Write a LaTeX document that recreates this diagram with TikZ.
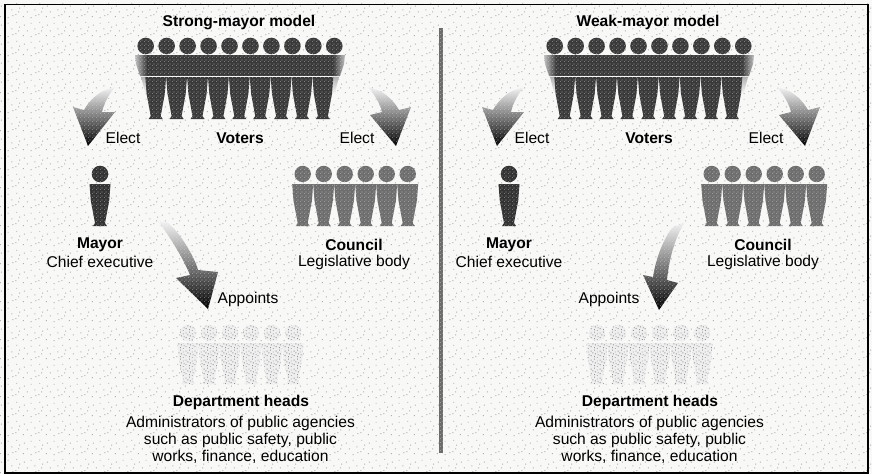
\documentclass[tikz,border=0pt]{standalone}
\usepackage{fontspec}
\setmainfont{Liberation Sans}
\usetikzlibrary{patterns}
\definecolor{paper}{HTML}{F8F8F7}
\definecolor{voter}{HTML}{3A3A3A}
\definecolor{council}{HTML}{6E6E6E}
\definecolor{mayorc}{HTML}{333333}
\definecolor{dept}{HTML}{EFEFEF}
\newcommand{\ptdot}[2]{\pgfpathrectangle{\pgfqpoint{#1pt}{#2pt}}{\pgfqpoint{1pt}{1pt}}}
\pgfdeclarepatternformonly{paperdots}{\pgfqpoint{0pt}{0pt}}{\pgfqpoint{23pt}{19pt}}{\pgfqpoint{23pt}{19pt}}{%
  \ptdot{1}{2}\ptdot{9}{1}\ptdot{17}{4}\ptdot{5}{7}\ptdot{13}{9}\ptdot{21}{11}\ptdot{2}{13}\ptdot{9}{15}\ptdot{18}{16}\ptdot{14}{3}\ptdot{20}{7}
  \pgfusepath{fill}}
\pgfdeclarepatternformonly{stipple}{\pgfqpoint{0pt}{0pt}}{\pgfqpoint{9pt}{9pt}}{\pgfqpoint{9pt}{9pt}}{%
  \ptdot{0}{1}\ptdot{3}{0}\ptdot{6}{2}\ptdot{1}{4}\ptdot{4}{3}\ptdot{8}{5}\ptdot{3}{6}\ptdot{6}{7}\ptdot{0}{8}
  \pgfusepath{fill}}
\pgfdeclarepatternformonly{grain}{\pgfqpoint{0pt}{0pt}}{\pgfqpoint{4pt}{4pt}}{\pgfqpoint{4pt}{4pt}}{%
  \pgfpathrectangle{\pgfqpoint{0pt}{0pt}}{\pgfqpoint{.8pt}{.8pt}}
  \pgfpathrectangle{\pgfqpoint{2pt}{2pt}}{\pgfqpoint{.8pt}{.8pt}}
  \pgfusepath{fill}}
\tikzset{
  lab/.style={inner sep=0pt,font=\fontsize{15.6}{17}\selectfont,align=center,text=black},
  blab/.style={lab,font=\fontsize{15.6}{17}\selectfont\bfseries,text=black},
  frameline/.style={line width=1.8pt,black},
  grainy/.style={postaction={pattern=grain,pattern color=white!70!gray}},
  deptfig/.style={fill=dept,postaction={pattern=stipple,pattern color=gray!85}},
  voterfig/.style={fill=voter,grainy},
  councilfig/.style={fill=council,grainy},
  mayorfig/.style={fill=mayorc,grainy},
  flow/.style={top color=gray!8,middle color=gray!130!black,bottom color=black,grainy},
}
\colorlet{midflow}{black!62}
\tikzset{flow/.style={top color=gray!8,middle color=midflow,bottom color=black,grainy}}
% one column of a figure: centre x, top, bottom, half width, style
\newcommand{\bodycol}[5]{%
  \path[#5] ({#1-#4},#2) -- ({#1+#4},#2) -- ({#1+#4-1.3},{#2+(#3-#2)*.4}) -- ({#1+5},{#3-3}) -- ({#1+7},#3) -- ({#1-7},#3) -- ({#1-5},{#3-3}) -- ({#1-#4+1.3},{#2+(#3-#2)*.4}) -- cycle;}
% row of people: first x, last index, head y, top, bottom, style
\newcommand{\peoplerow}[6]{%
  \foreach \i in {0,...,#2}{
    \path[#6] ({#1+21*\i},#3) circle (8.2);
    \bodycol{#1+21*\i}{#4}{#5}{10.5}{#6}
  }}
\newcommand{\panel}[2]{%
  \node[blab] (#1title) at (239,22) {#2};
  % voters
  \foreach \i in {0,...,9}{\path[voterfig] ({145.7+20.95*\i},46) circle (8.3);}
  \path[voterfig] (147,55) rectangle (333,76);
  \shade[left color=gray!50,right color=voter,grainy] (135,55) -- (147,55) -- (147,76) -- (140,76) -- (136,64) -- cycle;
  \shade[left color=voter,right color=gray!50,grainy] (345,55) -- (333,55) -- (333,76) -- (340,76) -- (344,64) -- cycle;
  \shade[top color=gray!60,bottom color=paper] (141,77) -- (147,77) -- (149,94) -- (145,92) -- cycle;
  \shade[top color=gray!60,bottom color=paper] (339,77) -- (333,77) -- (331,94) -- (335,92) -- cycle;
  \foreach \i in {0,...,8}{\bodycol{155.7+20.9*\i}{77}{119}{10.4}{voterfig}}
  \node[lab] (#1elL) at (123,138) {Elect};
  \node[blab] (#1vot) at (240,138) {Voters};
  \node[lab] (#1elR) at (357,138) {Elect};
  % mayor
  \path[mayorfig] (100,174) circle (8.3);
  \bodycol{100}{184}{226}{10.5}{mayorfig}
  \node[blab] (#1may) at (100,245) {Mayor};
  \node[lab] (#1che) at (100,262) {Chief executive};
  % council
  \peoplerow{302.7}{5}{174}{184}{226}{councilfig}
  \node[blab] (#1cou) at (354,245) {Council};
  \node[lab] (#1leg) at (354,262) {Legislative body};
  % department heads
  \peoplerow{188}{5}{333}{343}{384}{deptfig}
  \node[blab] (#1dep) at (241,402) {Department heads};
  \node[lab] (#1adm) at (240.5,440) {Administrators of public agencies\\such as public safety, public\\works, finance, education};
  % arrows voters to mayor and council
  \coordinate (#1lt) at (115,87);
  \coordinate (#1lh) at (88,146);
  \coordinate (#1rt) at (368,87);
  \coordinate (#1rh) at (396,146);
  \shade[shading angle=-24,flow]
    (#1lt) -- (103,91) .. controls (94,96) and (88,103) .. (84,110) -- (73,107) -- (#1lh) -- (115,112) -- (102,112) .. controls (104,103) and (109,94) .. (#1lt) -- cycle;
  \shade[shading angle=24,flow]
    (#1rt) -- (380,91) .. controls (389,96) and (395,103) .. (399,110) -- (411,107) -- (#1rh) -- (370,115) -- (382,112) .. controls (380,103) and (374,94) .. (#1rt) -- cycle;
}
\begin{document}
\begin{tikzpicture}[x=1pt,y=-1pt]
\useasboundingbox (0,0) rectangle (872,474);
\fill[paper] (0,0) rectangle (872,474);
\fill[pattern=paperdots,pattern color=gray!62] (0,0) rectangle (872,474);
\draw[frameline] (5,4.5) -- (868,4.5) -- (868,473) -- (5,473) -- cycle;
\path[fill=gray!85!black,grainy] (438.5,28) rectangle (443,453);
\panel{s}{Strong-mayor model}
\coordinate (sat) at (158,221);
\coordinate (sah) at (208,309);
\shade[shading angle=-30,flow]
  (sat) .. controls (165,230) and (182,255) .. (190,275) -- (176,278) -- (sah) -- (218,272) -- (198,270) .. controls (195,258) and (180,232) .. (167,222) -- cycle;
\node[lab] (sapp) at (248,299) {Appoints};
\begin{scope}[shift={(409,0)}]
\panel{w}{Weak-mayor model}
\end{scope}
\coordinate (wat) at (685,222);
\coordinate (wah) at (659,310);
\shade[shading angle=12,flow]
  (wat) .. controls (676,235) and (669,258) .. (667,280) -- (678,283) -- (wah) -- (643,275) -- (653,277) .. controls (656,258) and (663,240) .. (672,228) -- cycle;
\node[lab] (wapp) at (609,299) {Appoints};
\end{tikzpicture}
\end{document}
